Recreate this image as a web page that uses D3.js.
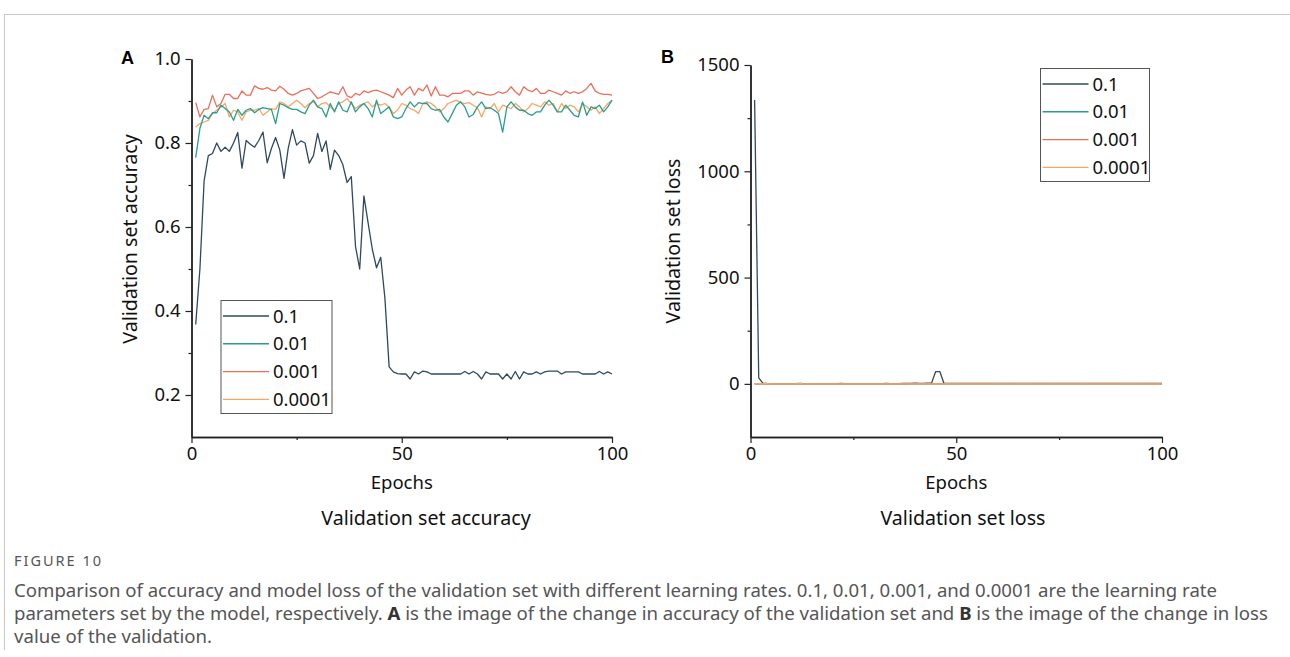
<!DOCTYPE html>
<html>
<head>
<meta charset="utf-8">
<script src="https://cdn.jsdelivr.net/npm/d3@7"></script>
<style>
  body { margin: 0; background: #fff; }
  svg text { font-family: "Noto Sans", "Open Sans", sans-serif; }
</style>
</head>
<body>
<svg id="chart"></svg>
<script>
// epochs 1..100
const epochs = d3.range(1, 101);
const lrLabels = ["0.1", "0.01", "0.001", "0.0001"];

// validation accuracy
const acc_0_1 = [
  0.368, 0.50, 0.71, 0.77, 0.775, 0.80, 0.78, 0.79, 0.78, 0.80,
  0.825, 0.74, 0.806, 0.797, 0.79, 0.806, 0.826, 0.753, 0.787, 0.813,
  0.783, 0.716, 0.787, 0.832, 0.795, 0.805, 0.80, 0.752, 0.77, 0.823,
  0.78, 0.805, 0.737, 0.783, 0.77, 0.748, 0.706, 0.72, 0.554, 0.50,
  0.674, 0.61, 0.547, 0.503, 0.528, 0.43, 0.267, 0.255, 0.251, 0.25,
  0.25, 0.238, 0.255, 0.25, 0.257, 0.255, 0.25, 0.25, 0.25, 0.25,
  0.25, 0.25, 0.25, 0.25, 0.256, 0.25, 0.256, 0.25, 0.238, 0.255,
  0.25, 0.25, 0.25, 0.238, 0.25, 0.238, 0.256, 0.238, 0.255, 0.25,
  0.25, 0.255, 0.25, 0.255, 0.257, 0.257, 0.257, 0.25, 0.255, 0.255,
  0.255, 0.255, 0.25, 0.25, 0.25, 0.25, 0.256, 0.25, 0.255, 0.25
];
const acc_0_01 = [
  0.765, 0.835, 0.866, 0.858, 0.872, 0.872, 0.890, 0.882, 0.874, 0.854,
  0.880, 0.866, 0.878, 0.882, 0.872, 0.880, 0.884, 0.882, 0.880, 0.846,
  0.894, 0.890, 0.884, 0.880, 0.880, 0.874, 0.870, 0.890, 0.902, 0.886,
  0.882, 0.862, 0.894, 0.874, 0.898, 0.878, 0.874, 0.898, 0.874, 0.886,
  0.894, 0.882, 0.862, 0.902, 0.870, 0.878, 0.886, 0.862, 0.858, 0.862,
  0.882, 0.898, 0.886, 0.896, 0.894, 0.894, 0.882, 0.878, 0.880, 0.862,
  0.850, 0.870, 0.890, 0.898, 0.886, 0.862, 0.868, 0.886, 0.898, 0.882,
  0.884, 0.878, 0.870, 0.826, 0.886, 0.898, 0.886, 0.878, 0.878, 0.870,
  0.866, 0.874, 0.874, 0.890, 0.902, 0.890, 0.874, 0.874, 0.890, 0.878,
  0.866, 0.862, 0.898, 0.866, 0.886, 0.882, 0.890, 0.874, 0.886, 0.902
];
const acc_0_001 = [
  0.896, 0.862, 0.880, 0.882, 0.914, 0.886, 0.894, 0.916, 0.916, 0.906,
  0.906, 0.924, 0.914, 0.914, 0.936, 0.930, 0.928, 0.932, 0.926, 0.924,
  0.935, 0.928, 0.918, 0.914, 0.918, 0.924, 0.927, 0.930, 0.918, 0.906,
  0.910, 0.916, 0.922, 0.919, 0.916, 0.934, 0.912, 0.908, 0.918, 0.914,
  0.924, 0.920, 0.924, 0.926, 0.922, 0.918, 0.914, 0.908, 0.930, 0.914,
  0.926, 0.934, 0.914, 0.930, 0.924, 0.938, 0.912, 0.934, 0.914, 0.914,
  0.910, 0.918, 0.918, 0.918, 0.924, 0.924, 0.914, 0.922, 0.919, 0.916,
  0.914, 0.916, 0.922, 0.918, 0.922, 0.934, 0.922, 0.914, 0.934, 0.926,
  0.922, 0.930, 0.918, 0.918, 0.926, 0.922, 0.918, 0.914, 0.924, 0.918,
  0.922, 0.918, 0.922, 0.930, 0.942, 0.924, 0.918, 0.916, 0.916, 0.914
];
const acc_0_0001 = [
  0.838, 0.846, 0.850, 0.854, 0.870, 0.878, 0.886, 0.894, 0.862, 0.878,
  0.874, 0.854, 0.874, 0.878, 0.878, 0.882, 0.866, 0.874, 0.882, 0.880,
  0.898, 0.894, 0.886, 0.894, 0.902, 0.894, 0.884, 0.894, 0.898, 0.886,
  0.894, 0.896, 0.886, 0.878, 0.894, 0.898, 0.906, 0.894, 0.882, 0.890,
  0.894, 0.898, 0.886, 0.894, 0.890, 0.894, 0.886, 0.870, 0.878, 0.894,
  0.890, 0.882, 0.878, 0.870, 0.894, 0.898, 0.894, 0.886, 0.874, 0.882,
  0.894, 0.898, 0.902, 0.896, 0.894, 0.896, 0.890, 0.884, 0.862, 0.886,
  0.882, 0.894, 0.874, 0.890, 0.886, 0.882, 0.894, 0.886, 0.874, 0.882,
  0.894, 0.890, 0.886, 0.898, 0.890, 0.894, 0.874, 0.894, 0.882, 0.890,
  0.886, 0.874, 0.894, 0.886, 0.878, 0.886, 0.870, 0.882, 0.894, 0.902
];

// validation loss
const loss_0_1 = [
  1335, 28, 3, 1.6, 1.5, 1.4, 1.5, 1.4, 1.5, 1.4,
  1.3, 1.6, 1.4, 1.4, 1.5, 1.4, 1.3, 1.5, 1.4, 1.4,
  1.4, 1.6, 1.4, 1.3, 1.4, 1.4, 1.4, 1.5, 1.5, 1.3,
  1.4, 1.4, 1.6, 1.4, 1.5, 1.5, 1.7, 1.6, 2.4, 2.8,
  2.1, 2.5, 2.9, 3.5, 58, 58, 3.2, 2.2, 2.0, 2.0,
  2.0, 2.1, 2.0, 2.0, 1.9, 2.0, 2.0, 2.0, 2.0, 2.0,
  2.0, 2.0, 2.0, 2.0, 1.9, 2.0, 1.9, 2.0, 2.1, 2.0,
  2.0, 2.0, 2.0, 2.1, 2.0, 2.1, 1.9, 2.1, 2.0, 2.0,
  2.0, 2.0, 2.0, 2.0, 1.9, 1.9, 1.9, 2.0, 2.0, 2.0,
  2.0, 2.0, 2.0, 2.0, 2.0, 2.0, 1.9, 2.0, 2.0, 2.0
];
const loss_0_01 = [
  0.62, 0.48, 0.40, 0.42, 0.38, 0.39, 0.33, 0.35, 0.37, 0.43,
  0.36, 0.40, 0.36, 0.35, 0.38, 0.36, 0.34, 0.35, 0.36, 0.45,
  0.32, 0.33, 0.35, 0.36, 0.36, 0.37, 0.38, 0.33, 0.30, 0.34,
  0.35, 0.41, 0.32, 0.37, 0.31, 0.36, 0.37, 0.31, 0.37, 0.34,
  0.32, 0.35, 0.41, 0.30, 0.38, 0.36, 0.34, 0.41, 0.42, 0.41,
  0.35, 0.31, 0.34, 0.31, 0.32, 0.32, 0.35, 0.36, 0.35, 0.41,
  0.44, 0.38, 0.33, 0.31, 0.34, 0.41, 0.39, 0.34, 0.31, 0.35,
  0.34, 0.36, 0.38, 0.50, 0.34, 0.31, 0.34, 0.36, 0.36, 0.38,
  0.39, 0.37, 0.37, 0.33, 0.30, 0.33, 0.37, 0.37, 0.33, 0.36,
  0.39, 0.41, 0.31, 0.39, 0.34, 0.35, 0.33, 0.37, 0.34, 0.30
];
const loss_0_001 = [
  0.30, 0.38, 0.33, 0.33, 0.25, 0.32, 0.30, 0.24, 0.24, 0.27,
  0.27, 0.22, 0.25, 0.25, 0.19, 0.21, 0.21, 0.20, 0.22, 0.22,
  0.19, 0.21, 0.24, 0.25, 0.24, 0.22, 0.21, 0.21, 0.24, 0.27,
  0.26, 0.24, 0.23, 0.23, 0.24, 0.20, 0.25, 0.26, 0.24, 0.25,
  0.22, 0.23, 0.22, 0.22, 0.23, 0.24, 0.25, 0.26, 0.21, 0.25,
  0.22, 0.20, 0.25, 0.21, 0.22, 0.19, 0.25, 0.20, 0.25, 0.25,
  0.26, 0.24, 0.24, 0.24, 0.22, 0.22, 0.25, 0.23, 0.23, 0.24,
  0.25, 0.24, 0.23, 0.24, 0.23, 0.20, 0.23, 0.25, 0.20, 0.22,
  0.23, 0.21, 0.24, 0.24, 0.22, 0.23, 0.24, 0.25, 0.22, 0.24,
  0.23, 0.24, 0.23, 0.21, 0.18, 0.22, 0.24, 0.24, 0.24, 0.25
];
const loss_0_0001 = [
  0.48, 0.44, 0.42, 0.41, 0.37, 0.35, 0.33, 0.31, 0.38, 0.34,
  0.35, 0.40, 0.35, 0.34, 0.34, 0.33, 0.37, 0.35, 0.33, 0.33,
  0.29, 0.30, 0.32, 0.30, 0.29, 0.30, 0.32, 0.30, 0.29, 0.32,
  0.30, 0.30, 0.32, 0.34, 0.30, 0.29, 0.28, 0.30, 0.33, 0.31,
  0.30, 0.29, 0.32, 0.30, 0.31, 0.30, 0.32, 0.36, 0.34, 0.30,
  0.31, 0.33, 0.34, 0.36, 0.30, 0.29, 0.30, 0.32, 0.35, 0.33,
  0.30, 0.29, 0.28, 0.30, 0.30, 0.30, 0.31, 0.32, 0.38, 0.32,
  0.33, 0.30, 0.35, 0.31, 0.32, 0.33, 0.30, 0.32, 0.35, 0.33,
  0.30, 0.31, 0.32, 0.29, 0.31, 0.30, 0.35, 0.30, 0.33, 0.31,
  0.32, 0.35, 0.30, 0.32, 0.34, 0.32, 0.36, 0.33, 0.30, 0.29
];

const epochTicks = [0, 50, 100];
const epochMinor = [25, 75];
const accTicks = [0.2, 0.4, 0.6, 0.8, 1.0];
const accMinor = [0.3, 0.5, 0.7, 0.9];
const lossTicks = [0, 500, 1000, 1500];
const lossMinor = [250, 750, 1250];

const COLORS = ["#2f4a5c", "#2a9d8f", "#e8705a", "#f5a866"];
const WIDTH = 1290, HEIGHT = 657;
const AXIS_COLOR = "#222";

const SVG = d3.select("#chart").attr("width", WIDTH).attr("height", HEIGHT);

// page frame lines
SVG.append("line").attr("x1", 4).attr("x2", WIDTH).attr("y1", 14.5).attr("y2", 14.5)
  .attr("stroke", "#c8c8c8").attr("stroke-width", 1);
SVG.append("line").attr("x1", 4.5).attr("x2", 4.5).attr("y1", 14).attr("y2", 650)
  .attr("stroke", "#c8c8c8").attr("stroke-width", 1);

function drawPanel(cfg) {
  const g = SVG.append("g");
  const xScale = d3.scaleLinear().domain([0, 100]).range(cfg.xRange);
  const yScale = d3.scaleLinear().domain(cfg.yDomain).range(cfg.yRange);

  const xAxis = d3.axisBottom(xScale).tickValues(epochTicks).tickSize(6).tickSizeOuter(0).tickPadding(4);
  const xMinor = d3.axisBottom(xScale).tickValues(epochMinor).tickSize(3).tickSizeOuter(0).tickFormat("");
  const yAxis = d3.axisLeft(yScale).tickValues(cfg.yTicks).tickSize(6).tickSizeOuter(0).tickPadding(5).tickFormat(cfg.yFormat);
  const yMinor = d3.axisLeft(yScale).tickValues(cfg.yMinor).tickSize(3).tickSizeOuter(0).tickFormat("");

  [[xAxis, "x"], [xMinor, "x"], [yAxis, "y"], [yMinor, "y"]].forEach(([ax, k]) => {
    const a = g.append("g")
      .attr("transform", k === "x" ? `translate(0,${cfg.yRange[0]})` : `translate(${cfg.xRange[0]},0)`)
      .call(ax);
    a.select(".domain").attr("stroke", AXIS_COLOR).attr("stroke-width", 1.4);
    a.selectAll(".tick line").attr("stroke", AXIS_COLOR).attr("stroke-width", 1.2);
    a.selectAll(".tick text").attr("font-size", "18.5px").attr("fill", "#111")
      .style("font-family", '"Noto Sans", sans-serif');
  });

  // lines
  const line = d3.line().x((d) => xScale(d[0])).y((d) => yScale(d[1]));
  cfg.order.forEach((i) => {
    g.append("path")
      .datum(epochs.map((e, k) => [e, cfg.series[i][k]]))
      .attr("fill", "none")
      .attr("stroke", COLORS[i])
      .attr("stroke-width", 1.3)
      .attr("stroke-linejoin", "round")
      .attr("d", line);
  });

  // panel letter
  g.append("text").attr("x", cfg.letterPos[0]).attr("y", cfg.letterPos[1])
    .attr("font-size", "18px").attr("font-weight", "bold")
    .style("font-family", '"Liberation Sans", Arial, sans-serif')
    .text(cfg.letter);

  // axis titles
  const xMid = (cfg.xRange[0] + cfg.xRange[1]) / 2;
  g.append("text").attr("x", xMid).attr("y", 489).attr("text-anchor", "middle")
    .attr("font-size", "18.5px").attr("fill", "#111").text("Epochs");
  g.append("text").attr("x", cfg.titleX).attr("y", 525).attr("text-anchor", "middle")
    .attr("font-size", "19.6px").attr("fill", "#111").text(cfg.title);
  g.append("text")
    .attr("transform", `translate(${cfg.yTitleX},${cfg.yTitleY}) rotate(-90)`)
    .attr("text-anchor", "middle").attr("font-size", "19.6px").attr("fill", "#111")
    .text(cfg.yTitle);

  // legend
  const L = cfg.legend;
  g.append("rect").attr("x", L.x).attr("y", L.y).attr("width", L.w).attr("height", L.h)
    .attr("fill", "#fff").attr("stroke", "#555").attr("stroke-width", 1);
  const rows = g.selectAll(null).data(lrLabels).enter().append("g")
    .attr("transform", (d, i) => `translate(${L.x},${L.y + 15.5 + i * 27.8})`);
  rows.append("line").attr("x1", 2).attr("x2", 48).attr("y1", 0).attr("y2", 0)
    .attr("stroke", (d, i) => COLORS[i]).attr("stroke-width", 1.4);
  rows.append("text").attr("x", 52).attr("y", 6.5).attr("font-size", "18.5px").attr("fill", "#111")
    .text((d) => d);
}

drawPanel({
  letter: "A", letterPos: [121, 64],
  xRange: [191.5, 612], yRange: [437, 59], yDomain: [0.1, 1.0],
  yTicks: accTicks, yMinor: accMinor, yFormat: d3.format(".1f"),
  series: [acc_0_1, acc_0_01, acc_0_001, acc_0_0001], order: [0, 2, 3, 1],
  title: "Validation set accuracy", titleX: 426,
  yTitle: "Validation set accuracy", yTitleX: 137, yTitleY: 239,
  legend: { x: 221, y: 300.5, w: 111, h: 113 }
});

drawPanel({
  letter: "B", letterPos: [661, 63],
  xRange: [750.5, 1162], yRange: [437, 65], yDomain: [-250, 1500],
  yTicks: lossTicks, yMinor: lossMinor, yFormat: d3.format("d"),
  series: [loss_0_1, loss_0_01, loss_0_001, loss_0_0001], order: [0, 1, 2, 3],
  title: "Validation set loss", titleX: 963,
  yTitle: "Validation set loss", yTitleX: 680, yTitleY: 241,
  legend: { x: 1040.5, y: 68.5, w: 109, h: 113 }
});

// caption
const caption = SVG.append("g").attr("fill", "#555").style("font-family", '"Open Sans", sans-serif');
caption.append("text").attr("x", 14).attr("y", 566).attr("font-size", "14.5px")
  .attr("letter-spacing", "2px").text("FIGURE 10");
const capLines = [
  [["Comparison of accuracy and model loss of the validation set with different learning rates. 0.1, 0.01, 0.001, and 0.0001 are the learning rate", false]],
  [["parameters set by the model, respectively. ", false], ["A", true], [" is the image of the change in accuracy of the validation set and ", false], ["B", true], [" is the image of the change in loss", false]],
  [["value of the validation.", false]]
];
capLines.forEach((parts, i) => {
  const t = caption.append("text").attr("x", 14).attr("y", 597 + i * 23).attr("font-size", "18.6px");
  parts.forEach(([s, b]) => {
    t.append("tspan").attr("font-weight", b ? "bold" : null).attr("fill", b ? "#333" : null).text(s);
  });
});
</script>
</body>
</html>
